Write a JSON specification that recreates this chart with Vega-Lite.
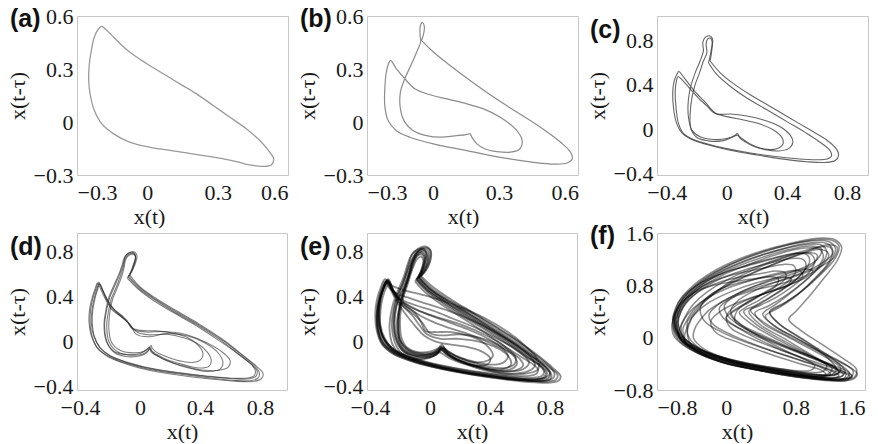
{
"$schema": "https://vega.github.io/schema/vega-lite/v6.json",
"background": "white",
"padding": {"left": 5, "top": 4, "right": 0, "bottom": 0},
"columns": 3,
"spacing": {"row": 58, "column": 79},
"bounds": "flush",
"concat": [
{
"title": {"text": "(a)"},
"width": 211, "height": 159,
"data": {"values": [
{"s":1,"x":-0.194,"y":0.543},{"s":1,"x":-0.158,"y":0.500},{"s":1,"x":-0.116,"y":0.443},{"s":1,"x":-0.066,"y":0.386},{"s":1,"x":-0.002,"y":0.330},{"s":1,"x":0.068,"y":0.273},{"s":1,"x":0.139,"y":0.216},{"s":1,"x":0.210,"y":0.159},{"s":1,"x":0.281,"y":0.093},{"s":1,"x":0.352,"y":0.027},{"s":1,"x":0.423,"y":-0.039},{"s":1,"x":0.480,"y":-0.105},{"s":1,"x":0.522,"y":-0.171},{"s":1,"x":0.539,"y":-0.209},{"s":1,"x":0.529,"y":-0.243},{"s":1,"x":0.494,"y":-0.251},{"s":1,"x":0.437,"y":-0.243},{"s":1,"x":0.380,"y":-0.224},{"s":1,"x":0.309,"y":-0.205},{"s":1,"x":0.239,"y":-0.190},{"s":1,"x":0.168,"y":-0.175},{"s":1,"x":0.097,"y":-0.160},{"s":1,"x":0.012,"y":-0.143},{"s":1,"x":-0.073,"y":-0.115},{"s":1,"x":-0.144,"y":-0.067},{"s":1,"x":-0.194,"y":-0.011},{"s":1,"x":-0.226,"y":0.065},{"s":1,"x":-0.243,"y":0.150},{"s":1,"x":-0.250,"y":0.235},{"s":1,"x":-0.248,"y":0.320},{"s":1,"x":-0.239,"y":0.405},{"s":1,"x":-0.226,"y":0.481},{"s":1,"x":-0.208,"y":0.528},{"s":1,"x":-0.194,"y":0.543}
]},
"mark": {"type": "line", "color": "#9a9a9a", "strokeWidth": 1.3, "interpolate": "catmull-rom"},
"encoding": {
"x": {"field": "x", "type": "quantitative", "scale": {"domain": [-0.3, 0.6], "nice": false, "zero": false}, "axis": {"values": [-0.3, 0, 0.3, 0.6], "format": ".1~f", "title": "x(t)", "titleX": 72}},
"y": {"field": "y", "type": "quantitative", "scale": {"domain": [-0.3, 0.6], "nice": false, "zero": false}, "axis": {"values": [-0.3, 0, 0.3, 0.6], "format": ".1~f", "title": "x(t-τ)"}},
"detail": {"field": "s", "type": "nominal"},
"order": {"value": null}
}
},
{
"title": {"text": "(b)"},
"width": 211, "height": 159,
"data": {"values": [
{"s":1,"x":-0.052,"y":0.462},{"s":1,"x":0.002,"y":0.396},{"s":1,"x":0.078,"y":0.320},{"s":1,"x":0.169,"y":0.235},{"s":1,"x":0.276,"y":0.141},{"s":1,"x":0.383,"y":0.055},{"s":1,"x":0.489,"y":-0.030},{"s":1,"x":0.581,"y":-0.115},{"s":1,"x":0.626,"y":-0.171},{"s":1,"x":0.634,"y":-0.209},{"s":1,"x":0.611,"y":-0.232},{"s":1,"x":0.550,"y":-0.238},{"s":1,"x":0.459,"y":-0.228},{"s":1,"x":0.306,"y":-0.200},{"s":1,"x":0.154,"y":-0.162},{"s":1,"x":0.002,"y":-0.124},{"s":1,"x":-0.105,"y":-0.086},{"s":1,"x":-0.166,"y":-0.049},{"s":1,"x":-0.204,"y":0.008},{"s":1,"x":-0.219,"y":0.093},{"s":1,"x":-0.219,"y":0.188},{"s":1,"x":-0.212,"y":0.282},{"s":1,"x":-0.199,"y":0.339},{"s":1,"x":-0.193,"y":0.349},{"s":1,"x":-0.166,"y":0.301},{"s":1,"x":-0.128,"y":0.245},{"s":1,"x":-0.082,"y":0.188},{"s":1,"x":-0.014,"y":0.154},{"s":1,"x":0.063,"y":0.131},{"s":1,"x":0.139,"y":0.108},{"s":1,"x":0.230,"y":0.074},{"s":1,"x":0.306,"y":0.027},{"s":1,"x":0.375,"y":-0.039},{"s":1,"x":0.406,"y":-0.105},{"s":1,"x":0.395,"y":-0.153},{"s":1,"x":0.352,"y":-0.171},{"s":1,"x":0.291,"y":-0.168},{"s":1,"x":0.238,"y":-0.153},{"s":1,"x":0.200,"y":-0.124},{"s":1,"x":0.177,"y":-0.086},{"s":1,"x":0.169,"y":-0.067},{"s":1,"x":0.151,"y":-0.071},{"s":1,"x":0.108,"y":-0.077},{"s":1,"x":0.032,"y":-0.086},{"s":1,"x":-0.029,"y":-0.077},{"s":1,"x":-0.090,"y":-0.049},{"s":1,"x":-0.128,"y":-0.001},{"s":1,"x":-0.148,"y":0.074},{"s":1,"x":-0.148,"y":0.169},{"s":1,"x":-0.128,"y":0.245},{"s":1,"x":-0.097,"y":0.330},{"s":1,"x":-0.071,"y":0.405},{"s":1,"x":-0.056,"y":0.453},{"s":1,"x":-0.059,"y":0.500},{"s":1,"x":-0.056,"y":0.551},{"s":1,"x":-0.047,"y":0.562},{"s":1,"x":-0.039,"y":0.538},{"s":1,"x":-0.044,"y":0.490},{"s":1,"x":-0.052,"y":0.462}
]},
"mark": {"type": "line", "color": "#8c8c8c", "strokeWidth": 1.2, "interpolate": "catmull-rom"},
"encoding": {
"x": {"field": "x", "type": "quantitative", "scale": {"domain": [-0.3, 0.66], "nice": false, "zero": false}, "axis": {"values": [-0.3, 0, 0.3, 0.6], "format": ".1~f", "title": "x(t)", "titleX": 96}},
"y": {"field": "y", "type": "quantitative", "scale": {"domain": [-0.3, 0.6], "nice": false, "zero": false}, "axis": {"values": [-0.3, 0, 0.3, 0.6], "format": ".1~f", "title": "x(t-τ)"}},
"detail": {"field": "s", "type": "nominal"},
"order": {"value": null}
}
},
{
"title": {"text": "(c)"},
"width": 211, "height": 159,
"data": {"values": [
{"s":1,"x":-0.111,"y":0.615},{"s":1,"x":-0.044,"y":0.509},{"s":1,"x":0.044,"y":0.412},{"s":1,"x":0.156,"y":0.312},{"s":1,"x":0.289,"y":0.206},{"s":1,"x":0.422,"y":0.100},{"s":1,"x":0.556,"y":-0.006},{"s":1,"x":0.667,"y":-0.097},{"s":1,"x":0.733,"y":-0.182},{"s":1,"x":0.744,"y":-0.233},{"s":1,"x":0.722,"y":-0.279},{"s":1,"x":0.655,"y":-0.297},{"s":1,"x":0.533,"y":-0.291},{"s":1,"x":0.378,"y":-0.267},{"s":1,"x":0.200,"y":-0.230},{"s":1,"x":0.022,"y":-0.188},{"s":1,"x":-0.133,"y":-0.136},{"s":1,"x":-0.233,"y":-0.091},{"s":1,"x":-0.300,"y":-0.030},{"s":1,"x":-0.338,"y":0.070},{"s":1,"x":-0.356,"y":0.206},{"s":1,"x":-0.360,"y":0.342},{"s":1,"x":-0.351,"y":0.433},{"s":1,"x":-0.333,"y":0.494},{"s":1,"x":-0.320,"y":0.521},{"s":1,"x":-0.289,"y":0.473},{"s":1,"x":-0.244,"y":0.394},{"s":1,"x":-0.200,"y":0.321},{"s":1,"x":-0.144,"y":0.245},{"s":1,"x":-0.100,"y":0.176},{"s":1,"x":-0.067,"y":0.139},{"s":1,"x":0.022,"y":0.139},{"s":1,"x":0.133,"y":0.121},{"s":1,"x":0.244,"y":0.085},{"s":1,"x":0.356,"y":0.024},{"s":1,"x":0.422,"y":-0.052},{"s":1,"x":0.440,"y":-0.112},{"s":1,"x":0.411,"y":-0.173},{"s":1,"x":0.344,"y":-0.194},{"s":1,"x":0.256,"y":-0.182},{"s":1,"x":0.178,"y":-0.152},{"s":1,"x":0.122,"y":-0.112},{"s":1,"x":0.084,"y":-0.073},{"s":1,"x":0.071,"y":-0.036},{"s":1,"x":0.056,"y":-0.052},{"s":1,"x":0.000,"y":-0.082},{"s":1,"x":-0.089,"y":-0.091},{"s":1,"x":-0.178,"y":-0.067},{"s":1,"x":-0.233,"y":-0.006},{"s":1,"x":-0.256,"y":0.115},{"s":1,"x":-0.256,"y":0.267},{"s":1,"x":-0.240,"y":0.388},{"s":1,"x":-0.211,"y":0.509},{"s":1,"x":-0.178,"y":0.615},{"s":1,"x":-0.156,"y":0.706},{"s":1,"x":-0.160,"y":0.782},{"s":1,"x":-0.144,"y":0.827},{"s":1,"x":-0.116,"y":0.842},{"s":1,"x":-0.096,"y":0.818},{"s":1,"x":-0.098,"y":0.736},{"s":1,"x":-0.111,"y":0.615},
{"s":2,"x":-0.122,"y":0.600},{"s":2,"x":-0.067,"y":0.494},{"s":2,"x":0.022,"y":0.388},{"s":2,"x":0.133,"y":0.282},{"s":2,"x":0.267,"y":0.176},{"s":2,"x":0.400,"y":0.070},{"s":2,"x":0.533,"y":-0.036},{"s":2,"x":0.633,"y":-0.127},{"s":2,"x":0.689,"y":-0.194},{"s":2,"x":0.696,"y":-0.242},{"s":2,"x":0.667,"y":-0.267},{"s":2,"x":0.600,"y":-0.273},{"s":2,"x":0.467,"y":-0.264},{"s":2,"x":0.311,"y":-0.242},{"s":2,"x":0.156,"y":-0.212},{"s":2,"x":0.000,"y":-0.173},{"s":2,"x":-0.122,"y":-0.133},{"s":2,"x":-0.222,"y":-0.091},{"s":2,"x":-0.289,"y":-0.036},{"s":2,"x":-0.322,"y":0.055},{"s":2,"x":-0.338,"y":0.191},{"s":2,"x":-0.344,"y":0.327},{"s":2,"x":-0.338,"y":0.418},{"s":2,"x":-0.324,"y":0.473},{"s":2,"x":-0.289,"y":0.433},{"s":2,"x":-0.240,"y":0.358},{"s":2,"x":-0.189,"y":0.282},{"s":2,"x":-0.133,"y":0.212},{"s":2,"x":-0.089,"y":0.152},{"s":2,"x":0.000,"y":0.115},{"s":2,"x":0.111,"y":0.085},{"s":2,"x":0.222,"y":0.048},{"s":2,"x":0.311,"y":-0.006},{"s":2,"x":0.367,"y":-0.073},{"s":2,"x":0.373,"y":-0.133},{"s":2,"x":0.333,"y":-0.173},{"s":2,"x":0.267,"y":-0.179},{"s":2,"x":0.200,"y":-0.158},{"s":2,"x":0.144,"y":-0.121},{"s":2,"x":0.100,"y":-0.082},{"s":2,"x":0.071,"y":-0.052},{"s":2,"x":0.033,"y":-0.073},{"s":2,"x":-0.033,"y":-0.103},{"s":2,"x":-0.122,"y":-0.103},{"s":2,"x":-0.200,"y":-0.073},{"s":2,"x":-0.240,"y":0.009},{"s":2,"x":-0.244,"y":0.145},{"s":2,"x":-0.233,"y":0.282},{"s":2,"x":-0.211,"y":0.403},{"s":2,"x":-0.182,"y":0.509},{"s":2,"x":-0.156,"y":0.615},{"s":2,"x":-0.133,"y":0.691},{"s":2,"x":-0.138,"y":0.767},{"s":2,"x":-0.129,"y":0.812},{"s":2,"x":-0.109,"y":0.821},{"s":2,"x":-0.098,"y":0.788},{"s":2,"x":-0.107,"y":0.691},{"s":2,"x":-0.122,"y":0.600}
]},
"mark": {"type": "line", "color": "#333333", "opacity": 0.75, "strokeWidth": 1.1, "interpolate": "catmull-rom"},
"encoding": {
"x": {"field": "x", "type": "quantitative", "scale": {"domain": [-0.465, 0.94], "nice": false, "zero": false}, "axis": {"values": [-0.4, 0, 0.4, 0.8], "format": ".1~f", "title": "x(t)", "titleX": 96}},
"y": {"field": "y", "type": "quantitative", "scale": {"domain": [-0.41, 1.02], "nice": false, "zero": false}, "axis": {"values": [-0.4, 0, 0.4, 0.8], "format": ".1~f", "title": "x(t-τ)"}},
"detail": {"field": "s", "type": "nominal"},
"order": {"value": null}
}
},
{
"title": {"text": "(d)"},
"width": 210, "height": 157,
"data": {"values": [
{"s":1,"x":-0.076,"y":0.578},{"s":1,"x":-0.002,"y":0.474},{"s":1,"x":0.098,"y":0.376},{"s":1,"x":0.231,"y":0.267},{"s":1,"x":0.387,"y":0.148},{"s":1,"x":0.542,"y":0.015},{"s":1,"x":0.676,"y":-0.119},{"s":1,"x":0.776,"y":-0.222},{"s":1,"x":0.82,"y":-0.288},{"s":1,"x":0.809,"y":-0.335},{"s":1,"x":0.753,"y":-0.359},{"s":1,"x":0.631,"y":-0.356},{"s":1,"x":0.453,"y":-0.335},{"s":1,"x":0.253,"y":-0.302},{"s":1,"x":0.053,"y":-0.258},{"s":1,"x":-0.102,"y":-0.199},{"s":1,"x":-0.213,"y":-0.139},{"s":1,"x":-0.28,"y":-0.068},{"s":1,"x":-0.32,"y":0.044},{"s":1,"x":-0.333,"y":0.163},{"s":1,"x":-0.329,"y":0.281},{"s":1,"x":-0.313,"y":0.385},{"s":1,"x":-0.291,"y":0.474},{"s":1,"x":-0.276,"y":0.524},{"s":1,"x":-0.247,"y":0.444},{"s":1,"x":-0.218,"y":0.355},{"s":1,"x":-0.18,"y":0.281},{"s":1,"x":-0.124,"y":0.216},{"s":1,"x":-0.069,"y":0.148},{"s":1,"x":-0.024,"y":0.059},{"s":1,"x":0.053,"y":0.038},{"s":1,"x":0.187,"y":0.068},{"s":1,"x":0.32,"y":0.044},{"s":1,"x":0.431,"y":-0.015},{"s":1,"x":0.52,"y":-0.104},{"s":1,"x":0.553,"y":-0.193},{"s":1,"x":0.531,"y":-0.252},{"s":1,"x":0.453,"y":-0.27},{"s":1,"x":0.364,"y":-0.252},{"s":1,"x":0.276,"y":-0.222},{"s":1,"x":0.187,"y":-0.178},{"s":1,"x":0.12,"y":-0.134},{"s":1,"x":0.076,"y":-0.098},{"s":1,"x":0.064,"y":-0.068},{"s":1,"x":0.049,"y":-0.098},{"s":1,"x":0.009,"y":-0.128},{"s":1,"x":-0.08,"y":-0.139},{"s":1,"x":-0.169,"y":-0.104},{"s":1,"x":-0.218,"y":-0.015},{"s":1,"x":-0.236,"y":0.133},{"s":1,"x":-0.224,"y":0.267},{"s":1,"x":-0.202,"y":0.385},{"s":1,"x":-0.169,"y":0.489},{"s":1,"x":-0.136,"y":0.592},{"s":1,"x":-0.113,"y":0.681},{"s":1,"x":-0.098,"y":0.75},{"s":1,"x":-0.069,"y":0.785},{"s":1,"x":-0.036,"y":0.791},{"s":1,"x":-0.02,"y":0.755},{"s":1,"x":-0.036,"y":0.672},{"s":1,"x":-0.058,"y":0.613},{"s":1,"x":-0.076,"y":0.578},
{"s":2,"x":-0.085,"y":0.56},{"s":2,"x":-0.01,"y":0.46},{"s":2,"x":0.09,"y":0.36},{"s":2,"x":0.22,"y":0.255},{"s":2,"x":0.37,"y":0.14},{"s":2,"x":0.52,"y":0.01},{"s":2,"x":0.65,"y":-0.11},{"s":2,"x":0.74,"y":-0.205},{"s":2,"x":0.78,"y":-0.265},{"s":2,"x":0.775,"y":-0.31},{"s":2,"x":0.73,"y":-0.335},{"s":2,"x":0.62,"y":-0.335},{"s":2,"x":0.45,"y":-0.315},{"s":2,"x":0.26,"y":-0.285},{"s":2,"x":0.07,"y":-0.245},{"s":2,"x":-0.09,"y":-0.19},{"s":2,"x":-0.2,"y":-0.13},{"s":2,"x":-0.265,"y":-0.06},{"s":2,"x":-0.305,"y":0.045},{"s":2,"x":-0.318,"y":0.165},{"s":2,"x":-0.314,"y":0.28},{"s":2,"x":-0.3,"y":0.38},{"s":2,"x":-0.282,"y":0.46},{"s":2,"x":-0.27,"y":0.505},{"s":2,"x":-0.24,"y":0.43},{"s":2,"x":-0.205,"y":0.34},{"s":2,"x":-0.165,"y":0.27},{"s":2,"x":-0.11,"y":0.205},{"s":2,"x":-0.06,"y":0.135},{"s":2,"x":-0.015,"y":0.075},{"s":2,"x":0.06,"y":0.055},{"s":2,"x":0.18,"y":0.06},{"s":2,"x":0.29,"y":0.03},{"s":2,"x":0.38,"y":-0.02},{"s":2,"x":0.45,"y":-0.1},{"s":2,"x":0.475,"y":-0.17},{"s":2,"x":0.46,"y":-0.225},{"s":2,"x":0.4,"y":-0.24},{"s":2,"x":0.33,"y":-0.225},{"s":2,"x":0.25,"y":-0.195},{"s":2,"x":0.17,"y":-0.16},{"s":2,"x":0.115,"y":-0.12},{"s":2,"x":0.08,"y":-0.09},{"s":2,"x":0.07,"y":-0.06},{"s":2,"x":0.055,"y":-0.085},{"s":2,"x":0.02,"y":-0.115},{"s":2,"x":-0.06,"y":-0.125},{"s":2,"x":-0.15,"y":-0.095},{"s":2,"x":-0.205,"y":-0.01},{"s":2,"x":-0.222,"y":0.13},{"s":2,"x":-0.21,"y":0.265},{"s":2,"x":-0.19,"y":0.38},{"s":2,"x":-0.158,"y":0.48},{"s":2,"x":-0.13,"y":0.58},{"s":2,"x":-0.11,"y":0.665},{"s":2,"x":-0.1,"y":0.73},{"s":2,"x":-0.075,"y":0.77},{"s":2,"x":-0.045,"y":0.78},{"s":2,"x":-0.03,"y":0.75},{"s":2,"x":-0.045,"y":0.665},{"s":2,"x":-0.065,"y":0.6},{"s":2,"x":-0.085,"y":0.56},
{"s":3,"x":-0.07,"y":0.59},{"s":3,"x":0.0,"y":0.48},{"s":3,"x":0.1,"y":0.385},{"s":3,"x":0.235,"y":0.275},{"s":3,"x":0.39,"y":0.155},{"s":3,"x":0.545,"y":0.02},{"s":3,"x":0.67,"y":-0.11},{"s":3,"x":0.76,"y":-0.215},{"s":3,"x":0.795,"y":-0.28},{"s":3,"x":0.79,"y":-0.325},{"s":3,"x":0.745,"y":-0.35},{"s":3,"x":0.63,"y":-0.35},{"s":3,"x":0.45,"y":-0.325},{"s":3,"x":0.25,"y":-0.29},{"s":3,"x":0.06,"y":-0.25},{"s":3,"x":-0.1,"y":-0.195},{"s":3,"x":-0.215,"y":-0.13},{"s":3,"x":-0.285,"y":-0.06},{"s":3,"x":-0.325,"y":0.05},{"s":3,"x":-0.34,"y":0.17},{"s":3,"x":-0.335,"y":0.29},{"s":3,"x":-0.318,"y":0.39},{"s":3,"x":-0.298,"y":0.47},{"s":3,"x":-0.284,"y":0.515},{"s":3,"x":-0.255,"y":0.44},{"s":3,"x":-0.222,"y":0.35},{"s":3,"x":-0.185,"y":0.275},{"s":3,"x":-0.13,"y":0.22},{"s":3,"x":-0.08,"y":0.165},{"s":3,"x":-0.04,"y":0.1},{"s":3,"x":0.04,"y":0.08},{"s":3,"x":0.16,"y":0.085},{"s":3,"x":0.3,"y":0.06},{"s":3,"x":0.42,"y":0.0},{"s":3,"x":0.54,"y":-0.09},{"s":3,"x":0.6,"y":-0.17},{"s":3,"x":0.59,"y":-0.23},{"s":3,"x":0.53,"y":-0.26},{"s":3,"x":0.43,"y":-0.26},{"s":3,"x":0.33,"y":-0.235},{"s":3,"x":0.22,"y":-0.195},{"s":3,"x":0.14,"y":-0.15},{"s":3,"x":0.09,"y":-0.11},{"s":3,"x":0.07,"y":-0.075},{"s":3,"x":0.06,"y":-0.055},{"s":3,"x":0.045,"y":-0.075},{"s":3,"x":0.0,"y":-0.11},{"s":3,"x":-0.09,"y":-0.12},{"s":3,"x":-0.175,"y":-0.09},{"s":3,"x":-0.225,"y":0.0},{"s":3,"x":-0.24,"y":0.14},{"s":3,"x":-0.228,"y":0.27},{"s":3,"x":-0.207,"y":0.39},{"s":3,"x":-0.176,"y":0.49},{"s":3,"x":-0.142,"y":0.59},{"s":3,"x":-0.12,"y":0.67},{"s":3,"x":-0.105,"y":0.74},{"s":3,"x":-0.08,"y":0.78},{"s":3,"x":-0.05,"y":0.79},{"s":3,"x":-0.03,"y":0.76},{"s":3,"x":-0.045,"y":0.675},{"s":3,"x":-0.06,"y":0.62},{"s":3,"x":-0.07,"y":0.59},
{"s":4,"x":-0.08,"y":0.57},{"s":4,"x":-0.005,"y":0.465},{"s":4,"x":0.095,"y":0.37},{"s":4,"x":0.225,"y":0.26},{"s":4,"x":0.38,"y":0.145},{"s":4,"x":0.53,"y":0.015},{"s":4,"x":0.655,"y":-0.115},{"s":4,"x":0.745,"y":-0.21},{"s":4,"x":0.77,"y":-0.27},{"s":4,"x":0.76,"y":-0.31},{"s":4,"x":0.72,"y":-0.328},{"s":4,"x":0.61,"y":-0.33},{"s":4,"x":0.44,"y":-0.31},{"s":4,"x":0.25,"y":-0.28},{"s":4,"x":0.065,"y":-0.24},{"s":4,"x":-0.095,"y":-0.185},{"s":4,"x":-0.205,"y":-0.125},{"s":4,"x":-0.27,"y":-0.055},{"s":4,"x":-0.31,"y":0.05},{"s":4,"x":-0.325,"y":0.165},{"s":4,"x":-0.32,"y":0.28},{"s":4,"x":-0.305,"y":0.38},{"s":4,"x":-0.287,"y":0.46},{"s":4,"x":-0.272,"y":0.51},{"s":4,"x":-0.245,"y":0.435},{"s":4,"x":-0.21,"y":0.345},{"s":4,"x":-0.17,"y":0.28},{"s":4,"x":-0.12,"y":0.225},{"s":4,"x":-0.085,"y":0.18},{"s":4,"x":-0.06,"y":0.12},{"s":4,"x":0.0,"y":0.095},{"s":4,"x":0.1,"y":0.09},{"s":4,"x":0.22,"y":0.07},{"s":4,"x":0.32,"y":0.03},{"s":4,"x":0.39,"y":-0.04},{"s":4,"x":0.42,"y":-0.11},{"s":4,"x":0.405,"y":-0.165},{"s":4,"x":0.35,"y":-0.19},{"s":4,"x":0.28,"y":-0.18},{"s":4,"x":0.2,"y":-0.15},{"s":4,"x":0.14,"y":-0.12},{"s":4,"x":0.1,"y":-0.09},{"s":4,"x":0.08,"y":-0.06},{"s":4,"x":0.075,"y":-0.04},{"s":4,"x":0.06,"y":-0.06},{"s":4,"x":0.03,"y":-0.09},{"s":4,"x":-0.04,"y":-0.105},{"s":4,"x":-0.13,"y":-0.085},{"s":4,"x":-0.19,"y":-0.01},{"s":4,"x":-0.208,"y":0.12},{"s":4,"x":-0.2,"y":0.26},{"s":4,"x":-0.182,"y":0.375},{"s":4,"x":-0.152,"y":0.47},{"s":4,"x":-0.123,"y":0.57},{"s":4,"x":-0.105,"y":0.66},{"s":4,"x":-0.095,"y":0.725},{"s":4,"x":-0.07,"y":0.765},{"s":4,"x":-0.042,"y":0.77},{"s":4,"x":-0.028,"y":0.745},{"s":4,"x":-0.04,"y":0.67},{"s":4,"x":-0.058,"y":0.61},{"s":4,"x":-0.08,"y":0.57}
]},
"mark": {"type": "line", "color": "#2a2a2a", "opacity": 0.6, "strokeWidth": 1.1, "interpolate": "catmull-rom"},
"encoding": {
"x": {"field": "x", "type": "quantitative", "scale": {"domain": [-0.42, 0.98], "nice": false, "zero": false}, "axis": {"values": [-0.4, 0, 0.4, 0.8], "format": ".1~f", "title": "x(t)"}},
"y": {"field": "y", "type": "quantitative", "scale": {"domain": [-0.435, 0.96], "nice": false, "zero": false}, "axis": {"values": [-0.4, 0, 0.4, 0.8], "format": ".1~f", "title": "x(t-τ)"}},
"detail": {"field": "s", "type": "nominal"},
"order": {"value": null}
}
},
{
"title": {"text": "(e)"},
"width": 210, "height": 157,
"data": {"values": [
{"s":1,"x":-0.07,"y":0.56},{"s":1,"x":0.0,"y":0.46},{"s":1,"x":0.12,"y":0.36},{"s":1,"x":0.27,"y":0.24},{"s":1,"x":0.43,"y":0.11},{"s":1,"x":0.58,"y":-0.02},{"s":1,"x":0.71,"y":-0.15},{"s":1,"x":0.80,"y":-0.24},{"s":1,"x":0.85,"y":-0.30},{"s":1,"x":0.84,"y":-0.34},{"s":1,"x":0.78,"y":-0.36},{"s":1,"x":0.64,"y":-0.35},{"s":1,"x":0.45,"y":-0.32},{"s":1,"x":0.25,"y":-0.28},{"s":1,"x":0.05,"y":-0.23},{"s":1,"x":-0.12,"y":-0.17},{"s":1,"x":-0.24,"y":-0.10},{"s":1,"x":-0.31,"y":-0.02},{"s":1,"x":-0.345,"y":0.10},{"s":1,"x":-0.35,"y":0.24},{"s":1,"x":-0.335,"y":0.37},{"s":1,"x":-0.31,"y":0.47},{"s":1,"x":-0.285,"y":0.54},{"s":1,"x":-0.255,"y":0.46},{"s":1,"x":-0.22,"y":0.37},{"s":1,"x":-0.17,"y":0.30},{"s":1,"x":-0.11,"y":0.24},{"s":1,"x":-0.05,"y":0.16},{"s":1,"x":0.0,"y":0.07},{"s":1,"x":0.08,"y":0.05},{"s":1,"x":0.2,"y":0.06},{"s":1,"x":0.33,"y":0.03},{"s":1,"x":0.45,"y":-0.03},{"s":1,"x":0.55,"y":-0.12},{"s":1,"x":0.58,"y":-0.2},{"s":1,"x":0.54,"y":-0.25},{"s":1,"x":0.45,"y":-0.26},{"s":1,"x":0.33,"y":-0.23},{"s":1,"x":0.2,"y":-0.18},{"s":1,"x":0.11,"y":-0.12},{"s":1,"x":0.07,"y":-0.07},{"s":1,"x":0.05,"y":-0.11},{"s":1,"x":0.0,"y":-0.14},{"s":1,"x":-0.09,"y":-0.14},{"s":1,"x":-0.17,"y":-0.1},{"s":1,"x":-0.22,"y":0.0},{"s":1,"x":-0.24,"y":0.14},{"s":1,"x":-0.23,"y":0.28},{"s":1,"x":-0.2,"y":0.4},{"s":1,"x":-0.165,"y":0.5},{"s":1,"x":-0.14,"y":0.6},{"s":1,"x":-0.12,"y":0.7},{"s":1,"x":-0.09,"y":0.78},{"s":1,"x":-0.04,"y":0.83},{"s":1,"x":0.0,"y":0.81},{"s":1,"x":0.0,"y":0.72},{"s":1,"x":-0.03,"y":0.63},{"s":1,"x":-0.07,"y":0.56},
{"s":2,"x":-0.08,"y":0.55},{"s":2,"x":-0.01,"y":0.45},{"s":2,"x":0.1,"y":0.35},{"s":2,"x":0.25,"y":0.23},{"s":2,"x":0.41,"y":0.1},{"s":2,"x":0.56,"y":-0.03},{"s":2,"x":0.68,"y":-0.14},{"s":2,"x":0.77,"y":-0.23},{"s":2,"x":0.80,"y":-0.28},{"s":2,"x":0.78,"y":-0.32},{"s":2,"x":0.72,"y":-0.34},{"s":2,"x":0.58,"y":-0.33},{"s":2,"x":0.4,"y":-0.3},{"s":2,"x":0.2,"y":-0.26},{"s":2,"x":0.02,"y":-0.21},{"s":2,"x":-0.13,"y":-0.15},{"s":2,"x":-0.24,"y":-0.08},{"s":2,"x":-0.3,"y":0.02},{"s":2,"x":-0.33,"y":0.14},{"s":2,"x":-0.33,"y":0.27},{"s":2,"x":-0.315,"y":0.39},{"s":2,"x":-0.29,"y":0.48},{"s":2,"x":-0.27,"y":0.52},{"s":2,"x":-0.24,"y":0.44},{"s":2,"x":-0.19,"y":0.37},{"s":2,"x":-0.1,"y":0.32},{"s":2,"x":0.02,"y":0.27},{"s":2,"x":0.15,"y":0.2},{"s":2,"x":0.3,"y":0.12},{"s":2,"x":0.45,"y":0.02},{"s":2,"x":0.6,"y":-0.1},{"s":2,"x":0.66,"y":-0.19},{"s":2,"x":0.62,"y":-0.25},{"s":2,"x":0.52,"y":-0.27},{"s":2,"x":0.38,"y":-0.25},{"s":2,"x":0.25,"y":-0.2},{"s":2,"x":0.14,"y":-0.14},{"s":2,"x":0.09,"y":-0.08},{"s":2,"x":0.07,"y":-0.05},{"s":2,"x":0.04,"y":-0.09},{"s":2,"x":-0.02,"y":-0.12},{"s":2,"x":-0.1,"y":-0.12},{"s":2,"x":-0.18,"y":-0.07},{"s":2,"x":-0.215,"y":0.04},{"s":2,"x":-0.22,"y":0.18},{"s":2,"x":-0.2,"y":0.32},{"s":2,"x":-0.175,"y":0.43},{"s":2,"x":-0.15,"y":0.53},{"s":2,"x":-0.13,"y":0.63},{"s":2,"x":-0.11,"y":0.72},{"s":2,"x":-0.08,"y":0.78},{"s":2,"x":-0.04,"y":0.8},{"s":2,"x":-0.02,"y":0.76},{"s":2,"x":-0.03,"y":0.67},{"s":2,"x":-0.06,"y":0.6},{"s":2,"x":-0.08,"y":0.55},
{"s":3,"x":-0.09,"y":0.54},{"s":3,"x":-0.02,"y":0.44},{"s":3,"x":0.08,"y":0.34},{"s":3,"x":0.22,"y":0.22},{"s":3,"x":0.38,"y":0.09},{"s":3,"x":0.53,"y":-0.04},{"s":3,"x":0.65,"y":-0.15},{"s":3,"x":0.73,"y":-0.22},{"s":3,"x":0.76,"y":-0.27},{"s":3,"x":0.745,"y":-0.31},{"s":3,"x":0.69,"y":-0.325},{"s":3,"x":0.56,"y":-0.32},{"s":3,"x":0.38,"y":-0.29},{"s":3,"x":0.19,"y":-0.25},{"s":3,"x":0.01,"y":-0.2},{"s":3,"x":-0.14,"y":-0.14},{"s":3,"x":-0.25,"y":-0.07},{"s":3,"x":-0.31,"y":0.03},{"s":3,"x":-0.34,"y":0.16},{"s":3,"x":-0.34,"y":0.29},{"s":3,"x":-0.325,"y":0.41},{"s":3,"x":-0.3,"y":0.5},{"s":3,"x":-0.28,"y":0.55},{"s":3,"x":-0.25,"y":0.47},{"s":3,"x":-0.21,"y":0.38},{"s":3,"x":-0.16,"y":0.31},{"s":3,"x":-0.1,"y":0.25},{"s":3,"x":-0.06,"y":0.17},{"s":3,"x":-0.03,"y":0.09},{"s":3,"x":0.04,"y":0.08},{"s":3,"x":0.14,"y":0.08},{"s":3,"x":0.25,"y":0.05},{"s":3,"x":0.34,"y":0.0},{"s":3,"x":0.4,"y":-0.07},{"s":3,"x":0.42,"y":-0.13},{"s":3,"x":0.39,"y":-0.17},{"s":3,"x":0.32,"y":-0.19},{"s":3,"x":0.24,"y":-0.17},{"s":3,"x":0.16,"y":-0.13},{"s":3,"x":0.11,"y":-0.09},{"s":3,"x":0.085,"y":-0.05},{"s":3,"x":0.06,"y":-0.07},{"s":3,"x":0.02,"y":-0.1},{"s":3,"x":-0.05,"y":-0.11},{"s":3,"x":-0.14,"y":-0.08},{"s":3,"x":-0.2,"y":0.01},{"s":3,"x":-0.21,"y":0.15},{"s":3,"x":-0.2,"y":0.29},{"s":3,"x":-0.18,"y":0.41},{"s":3,"x":-0.155,"y":0.51},{"s":3,"x":-0.13,"y":0.61},{"s":3,"x":-0.11,"y":0.69},{"s":3,"x":-0.09,"y":0.75},{"s":3,"x":-0.06,"y":0.77},{"s":3,"x":-0.04,"y":0.74},{"s":3,"x":-0.05,"y":0.66},{"s":3,"x":-0.07,"y":0.59},{"s":3,"x":-0.09,"y":0.54},
{"s":4,"x":-0.065,"y":0.57},{"s":4,"x":0.01,"y":0.47},{"s":4,"x":0.12,"y":0.37},{"s":4,"x":0.28,"y":0.25},{"s":4,"x":0.44,"y":0.12},{"s":4,"x":0.59,"y":-0.01},{"s":4,"x":0.72,"y":-0.14},{"s":4,"x":0.8,"y":-0.23},{"s":4,"x":0.83,"y":-0.29},{"s":4,"x":0.82,"y":-0.33},{"s":4,"x":0.76,"y":-0.355},{"s":4,"x":0.62,"y":-0.35},{"s":4,"x":0.43,"y":-0.32},{"s":4,"x":0.22,"y":-0.28},{"s":4,"x":0.03,"y":-0.225},{"s":4,"x":-0.13,"y":-0.165},{"s":4,"x":-0.25,"y":-0.095},{"s":4,"x":-0.32,"y":-0.01},{"s":4,"x":-0.35,"y":0.11},{"s":4,"x":-0.355,"y":0.25},{"s":4,"x":-0.34,"y":0.38},{"s":4,"x":-0.32,"y":0.47},{"s":4,"x":-0.3,"y":0.53},{"s":4,"x":-0.27,"y":0.47},{"s":4,"x":-0.22,"y":0.42},{"s":4,"x":-0.13,"y":0.38},{"s":4,"x":-0.02,"y":0.33},{"s":4,"x":0.12,"y":0.27},{"s":4,"x":0.27,"y":0.19},{"s":4,"x":0.42,"y":0.09},{"s":4,"x":0.57,"y":-0.03},{"s":4,"x":0.67,"y":-0.14},{"s":4,"x":0.7,"y":-0.22},{"s":4,"x":0.65,"y":-0.27},{"s":4,"x":0.54,"y":-0.29},{"s":4,"x":0.4,"y":-0.27},{"s":4,"x":0.27,"y":-0.22},{"s":4,"x":0.16,"y":-0.16},{"s":4,"x":0.1,"y":-0.1},{"s":4,"x":0.075,"y":-0.06},{"s":4,"x":0.05,"y":-0.1},{"s":4,"x":-0.01,"y":-0.13},{"s":4,"x":-0.1,"y":-0.13},{"s":4,"x":-0.18,"y":-0.09},{"s":4,"x":-0.23,"y":0.02},{"s":4,"x":-0.245,"y":0.16},{"s":4,"x":-0.235,"y":0.3},{"s":4,"x":-0.21,"y":0.42},{"s":4,"x":-0.18,"y":0.52},{"s":4,"x":-0.155,"y":0.61},{"s":4,"x":-0.13,"y":0.7},{"s":4,"x":-0.1,"y":0.77},{"s":4,"x":-0.055,"y":0.81},{"s":4,"x":-0.02,"y":0.79},{"s":4,"x":-0.015,"y":0.71},{"s":4,"x":-0.04,"y":0.62},{"s":4,"x":-0.065,"y":0.57},
{"s":5,"x":-0.06,"y":0.58},{"s":5,"x":0.02,"y":0.48},{"s":5,"x":0.14,"y":0.37},{"s":5,"x":0.29,"y":0.25},{"s":5,"x":0.45,"y":0.12},{"s":5,"x":0.6,"y":-0.01},{"s":5,"x":0.73,"y":-0.14},{"s":5,"x":0.82,"y":-0.24},{"s":5,"x":0.87,"y":-0.31},{"s":5,"x":0.86,"y":-0.35},{"s":5,"x":0.8,"y":-0.37},{"s":5,"x":0.66,"y":-0.365},{"s":5,"x":0.47,"y":-0.335},{"s":5,"x":0.27,"y":-0.295},{"s":5,"x":0.07,"y":-0.245},{"s":5,"x":-0.11,"y":-0.185},{"s":5,"x":-0.24,"y":-0.115},{"s":5,"x":-0.32,"y":-0.03},{"s":5,"x":-0.355,"y":0.09},{"s":5,"x":-0.365,"y":0.23},{"s":5,"x":-0.355,"y":0.36},{"s":5,"x":-0.33,"y":0.47},{"s":5,"x":-0.3,"y":0.55},{"s":5,"x":-0.265,"y":0.48},{"s":5,"x":-0.23,"y":0.39},{"s":5,"x":-0.18,"y":0.31},{"s":5,"x":-0.12,"y":0.23},{"s":5,"x":-0.07,"y":0.14},{"s":5,"x":-0.02,"y":0.06},{"s":5,"x":0.07,"y":0.02},{"s":5,"x":0.19,"y":0.02},{"s":5,"x":0.31,"y":0.0},{"s":5,"x":0.43,"y":-0.05},{"s":5,"x":0.52,"y":-0.13},{"s":5,"x":0.54,"y":-0.21},{"s":5,"x":0.48,"y":-0.25},{"s":5,"x":0.38,"y":-0.24},{"s":5,"x":0.27,"y":-0.2},{"s":5,"x":0.16,"y":-0.15},{"s":5,"x":0.1,"y":-0.1},{"s":5,"x":0.07,"y":-0.08},{"s":5,"x":0.045,"y":-0.12},{"s":5,"x":-0.02,"y":-0.15},{"s":5,"x":-0.11,"y":-0.15},{"s":5,"x":-0.19,"y":-0.11},{"s":5,"x":-0.235,"y":-0.01},{"s":5,"x":-0.255,"y":0.13},{"s":5,"x":-0.245,"y":0.27},{"s":5,"x":-0.22,"y":0.4},{"s":5,"x":-0.185,"y":0.5},{"s":5,"x":-0.16,"y":0.6},{"s":5,"x":-0.14,"y":0.69},{"s":5,"x":-0.12,"y":0.77},{"s":5,"x":-0.08,"y":0.82},{"s":5,"x":-0.03,"y":0.84},{"s":5,"x":0.005,"y":0.8},{"s":5,"x":0.0,"y":0.7},{"s":5,"x":-0.03,"y":0.62},{"s":5,"x":-0.06,"y":0.58},
{"s":6,"x":-0.1,"y":0.53},{"s":6,"x":-0.03,"y":0.43},{"s":6,"x":0.07,"y":0.33},{"s":6,"x":0.21,"y":0.21},{"s":6,"x":0.36,"y":0.08},{"s":6,"x":0.5,"y":-0.05},{"s":6,"x":0.62,"y":-0.15},{"s":6,"x":0.69,"y":-0.21},{"s":6,"x":0.72,"y":-0.25},{"s":6,"x":0.71,"y":-0.29},{"s":6,"x":0.66,"y":-0.31},{"s":6,"x":0.53,"y":-0.305},{"s":6,"x":0.36,"y":-0.28},{"s":6,"x":0.17,"y":-0.24},{"s":6,"x":-0.01,"y":-0.19},{"s":6,"x":-0.15,"y":-0.13},{"s":6,"x":-0.255,"y":-0.06},{"s":6,"x":-0.315,"y":0.04},{"s":6,"x":-0.335,"y":0.17},{"s":6,"x":-0.335,"y":0.3},{"s":6,"x":-0.32,"y":0.42},{"s":6,"x":-0.295,"y":0.5},{"s":6,"x":-0.275,"y":0.54},{"s":6,"x":-0.245,"y":0.45},{"s":6,"x":-0.2,"y":0.37},{"s":6,"x":-0.12,"y":0.3},{"s":6,"x":0.0,"y":0.23},{"s":6,"x":0.12,"y":0.17},{"s":6,"x":0.24,"y":0.11},{"s":6,"x":0.36,"y":0.04},{"s":6,"x":0.47,"y":-0.05},{"s":6,"x":0.52,"y":-0.13},{"s":6,"x":0.49,"y":-0.19},{"s":6,"x":0.41,"y":-0.21},{"s":6,"x":0.31,"y":-0.19},{"s":6,"x":0.21,"y":-0.15},{"s":6,"x":0.13,"y":-0.1},{"s":6,"x":0.095,"y":-0.06},{"s":6,"x":0.08,"y":-0.03},{"s":6,"x":0.06,"y":-0.06},{"s":6,"x":0.01,"y":-0.09},{"s":6,"x":-0.07,"y":-0.1},{"s":6,"x":-0.15,"y":-0.06},{"s":6,"x":-0.19,"y":0.03},{"s":6,"x":-0.2,"y":0.17},{"s":6,"x":-0.19,"y":0.31},{"s":6,"x":-0.17,"y":0.42},{"s":6,"x":-0.145,"y":0.52},{"s":6,"x":-0.125,"y":0.61},{"s":6,"x":-0.105,"y":0.68},{"s":6,"x":-0.085,"y":0.73},{"s":6,"x":-0.06,"y":0.75},{"s":6,"x":-0.045,"y":0.72},{"s":6,"x":-0.055,"y":0.64},{"s":6,"x":-0.075,"y":0.58},{"s":6,"x":-0.1,"y":0.53},
{"s":7,"x":-0.075,"y":0.565},{"s":7,"x":0.0,"y":0.465},{"s":7,"x":0.11,"y":0.36},{"s":7,"x":0.26,"y":0.24},{"s":7,"x":0.42,"y":0.105},{"s":7,"x":0.57,"y":-0.025},{"s":7,"x":0.7,"y":-0.15},{"s":7,"x":0.78,"y":-0.24},{"s":7,"x":0.81,"y":-0.3},{"s":7,"x":0.8,"y":-0.34},{"s":7,"x":0.74,"y":-0.355},{"s":7,"x":0.6,"y":-0.35},{"s":7,"x":0.42,"y":-0.325},{"s":7,"x":0.22,"y":-0.285},{"s":7,"x":0.03,"y":-0.235},{"s":7,"x":-0.13,"y":-0.175},{"s":7,"x":-0.25,"y":-0.11},{"s":7,"x":-0.32,"y":-0.02},{"s":7,"x":-0.35,"y":0.1},{"s":7,"x":-0.355,"y":0.23},{"s":7,"x":-0.345,"y":0.35},{"s":7,"x":-0.32,"y":0.46},{"s":7,"x":-0.29,"y":0.53},{"s":7,"x":-0.26,"y":0.45},{"s":7,"x":-0.225,"y":0.36},{"s":7,"x":-0.185,"y":0.28},{"s":7,"x":-0.14,"y":0.2},{"s":7,"x":-0.09,"y":0.12},{"s":7,"x":-0.04,"y":0.05},{"s":7,"x":0.03,"y":0.0},{"s":7,"x":0.13,"y":-0.03},{"s":7,"x":0.24,"y":-0.05},{"s":7,"x":0.34,"y":-0.09},{"s":7,"x":0.4,"y":-0.15},{"s":7,"x":0.39,"y":-0.2},{"s":7,"x":0.32,"y":-0.22},{"s":7,"x":0.22,"y":-0.2},{"s":7,"x":0.14,"y":-0.16},{"s":7,"x":0.09,"y":-0.12},{"s":7,"x":0.06,"y":-0.1},{"s":7,"x":0.03,"y":-0.13},{"s":7,"x":-0.04,"y":-0.16},{"s":7,"x":-0.13,"y":-0.16},{"s":7,"x":-0.2,"y":-0.12},{"s":7,"x":-0.25,"y":-0.03},{"s":7,"x":-0.27,"y":0.11},{"s":7,"x":-0.26,"y":0.25},{"s":7,"x":-0.235,"y":0.38},{"s":7,"x":-0.2,"y":0.49},{"s":7,"x":-0.17,"y":0.59},{"s":7,"x":-0.15,"y":0.68},{"s":7,"x":-0.125,"y":0.76},{"s":7,"x":-0.085,"y":0.81},{"s":7,"x":-0.045,"y":0.82},{"s":7,"x":-0.025,"y":0.78},{"s":7,"x":-0.035,"y":0.69},{"s":7,"x":-0.055,"y":0.61},{"s":7,"x":-0.075,"y":0.565},
{"s":8,"x":-0.085,"y":0.55},{"s":8,"x":-0.01,"y":0.45},{"s":8,"x":0.1,"y":0.35},{"s":8,"x":0.24,"y":0.23},{"s":8,"x":0.4,"y":0.1},{"s":8,"x":0.55,"y":-0.03},{"s":8,"x":0.67,"y":-0.15},{"s":8,"x":0.75,"y":-0.23},{"s":8,"x":0.78,"y":-0.28},{"s":8,"x":0.77,"y":-0.32},{"s":8,"x":0.71,"y":-0.34},{"s":8,"x":0.57,"y":-0.335},{"s":8,"x":0.39,"y":-0.305},{"s":8,"x":0.2,"y":-0.265},{"s":8,"x":0.02,"y":-0.215},{"s":8,"x":-0.13,"y":-0.155},{"s":8,"x":-0.245,"y":-0.085},{"s":8,"x":-0.305,"y":0.01},{"s":8,"x":-0.335,"y":0.13},{"s":8,"x":-0.34,"y":0.26},{"s":8,"x":-0.33,"y":0.38},{"s":8,"x":-0.305,"y":0.48},{"s":8,"x":-0.28,"y":0.53},{"s":8,"x":-0.25,"y":0.45},{"s":8,"x":-0.21,"y":0.37},{"s":8,"x":-0.15,"y":0.3},{"s":8,"x":-0.07,"y":0.23},{"s":8,"x":0.02,"y":0.17},{"s":8,"x":0.12,"y":0.12},{"s":8,"x":0.24,"y":0.07},{"s":8,"x":0.37,"y":0.0},{"s":8,"x":0.5,"y":-0.08},{"s":8,"x":0.6,"y":-0.16},{"s":8,"x":0.62,"y":-0.22},{"s":8,"x":0.57,"y":-0.26},{"s":8,"x":0.47,"y":-0.27},{"s":8,"x":0.35,"y":-0.24},{"s":8,"x":0.23,"y":-0.19},{"s":8,"x":0.14,"y":-0.13},{"s":8,"x":0.1,"y":-0.08},{"s":8,"x":0.08,"y":-0.06},{"s":8,"x":0.055,"y":-0.09},{"s":8,"x":0.0,"y":-0.12},{"s":8,"x":-0.08,"y":-0.12},{"s":8,"x":-0.16,"y":-0.08},{"s":8,"x":-0.205,"y":0.02},{"s":8,"x":-0.215,"y":0.16},{"s":8,"x":-0.205,"y":0.3},{"s":8,"x":-0.185,"y":0.42},{"s":8,"x":-0.16,"y":0.52},{"s":8,"x":-0.135,"y":0.62},{"s":8,"x":-0.115,"y":0.71},{"s":8,"x":-0.09,"y":0.77},{"s":8,"x":-0.05,"y":0.79},{"s":8,"x":-0.03,"y":0.75},{"s":8,"x":-0.04,"y":0.66},{"s":8,"x":-0.06,"y":0.6},{"s":8,"x":-0.085,"y":0.55},
{"s":9,"x":-0.075,"y":0.56},{"s":9,"x":0.0,"y":0.46},{"s":9,"x":0.11,"y":0.355},{"s":9,"x":0.26,"y":0.235},{"s":9,"x":0.42,"y":0.1},{"s":9,"x":0.57,"y":-0.03},{"s":9,"x":0.69,"y":-0.15},{"s":9,"x":0.77,"y":-0.235},{"s":9,"x":0.8,"y":-0.29},{"s":9,"x":0.79,"y":-0.33},{"s":9,"x":0.73,"y":-0.35},{"s":9,"x":0.59,"y":-0.345},{"s":9,"x":0.41,"y":-0.315},{"s":9,"x":0.21,"y":-0.275},{"s":9,"x":0.02,"y":-0.225},{"s":9,"x":-0.135,"y":-0.165},{"s":9,"x":-0.25,"y":-0.095},{"s":9,"x":-0.315,"y":0.0},{"s":9,"x":-0.345,"y":0.12},{"s":9,"x":-0.35,"y":0.25},{"s":9,"x":-0.335,"y":0.37},{"s":9,"x":-0.31,"y":0.47},{"s":9,"x":-0.29,"y":0.53},{"s":9,"x":-0.25,"y":0.49},{"s":9,"x":-0.17,"y":0.45},{"s":9,"x":-0.05,"y":0.41},{"s":9,"x":0.08,"y":0.36},{"s":9,"x":0.22,"y":0.29},{"s":9,"x":0.37,"y":0.2},{"s":9,"x":0.52,"y":0.08},{"s":9,"x":0.64,"y":-0.05},{"s":9,"x":0.72,"y":-0.17},{"s":9,"x":0.72,"y":-0.25},{"s":9,"x":0.64,"y":-0.29},{"s":9,"x":0.5,"y":-0.29},{"s":9,"x":0.36,"y":-0.25},{"s":9,"x":0.22,"y":-0.19},{"s":9,"x":0.13,"y":-0.12},{"s":9,"x":0.09,"y":-0.07},{"s":9,"x":0.06,"y":-0.1},{"s":9,"x":0.0,"y":-0.135},{"s":9,"x":-0.09,"y":-0.135},{"s":9,"x":-0.17,"y":-0.09},{"s":9,"x":-0.22,"y":0.02},{"s":9,"x":-0.235,"y":0.16},{"s":9,"x":-0.225,"y":0.3},{"s":9,"x":-0.2,"y":0.42},{"s":9,"x":-0.17,"y":0.52},{"s":9,"x":-0.145,"y":0.62},{"s":9,"x":-0.12,"y":0.71},{"s":9,"x":-0.09,"y":0.79},{"s":9,"x":-0.05,"y":0.82},{"s":9,"x":-0.01,"y":0.8},{"s":9,"x":-0.01,"y":0.71},{"s":9,"x":-0.04,"y":0.62},{"s":9,"x":-0.075,"y":0.56},
{"s":10,"x":-0.09,"y":0.545},{"s":10,"x":-0.015,"y":0.445},{"s":10,"x":0.09,"y":0.345},{"s":10,"x":0.23,"y":0.225},{"s":10,"x":0.39,"y":0.095},{"s":10,"x":0.54,"y":-0.035},{"s":10,"x":0.66,"y":-0.15},{"s":10,"x":0.74,"y":-0.225},{"s":10,"x":0.77,"y":-0.28},{"s":10,"x":0.76,"y":-0.32},{"s":10,"x":0.7,"y":-0.34},{"s":10,"x":0.56,"y":-0.335},{"s":10,"x":0.38,"y":-0.305},{"s":10,"x":0.19,"y":-0.265},{"s":10,"x":0.01,"y":-0.21},{"s":10,"x":-0.14,"y":-0.15},{"s":10,"x":-0.25,"y":-0.08},{"s":10,"x":-0.31,"y":0.02},{"s":10,"x":-0.34,"y":0.14},{"s":10,"x":-0.345,"y":0.27},{"s":10,"x":-0.33,"y":0.39},{"s":10,"x":-0.305,"y":0.49},{"s":10,"x":-0.285,"y":0.54},{"s":10,"x":-0.255,"y":0.46},{"s":10,"x":-0.21,"y":0.38},{"s":10,"x":-0.14,"y":0.31},{"s":10,"x":-0.04,"y":0.25},{"s":10,"x":0.08,"y":0.2},{"s":10,"x":0.22,"y":0.14},{"s":10,"x":0.36,"y":0.06},{"s":10,"x":0.49,"y":-0.04},{"s":10,"x":0.57,"y":-0.14},{"s":10,"x":0.56,"y":-0.21},{"s":10,"x":0.49,"y":-0.24},{"s":10,"x":0.39,"y":-0.23},{"s":10,"x":0.28,"y":-0.19},{"s":10,"x":0.18,"y":-0.14},{"s":10,"x":0.12,"y":-0.09},{"s":10,"x":0.09,"y":-0.06},{"s":10,"x":0.06,"y":-0.085},{"s":10,"x":0.01,"y":-0.115},{"s":10,"x":-0.07,"y":-0.115},{"s":10,"x":-0.15,"y":-0.075},{"s":10,"x":-0.2,"y":0.02},{"s":10,"x":-0.21,"y":0.16},{"s":10,"x":-0.2,"y":0.3},{"s":10,"x":-0.18,"y":0.42},{"s":10,"x":-0.155,"y":0.52},{"s":10,"x":-0.13,"y":0.62},{"s":10,"x":-0.11,"y":0.7},{"s":10,"x":-0.085,"y":0.76},{"s":10,"x":-0.055,"y":0.78},{"s":10,"x":-0.035,"y":0.75},{"s":10,"x":-0.045,"y":0.66},{"s":10,"x":-0.065,"y":0.6},{"s":10,"x":-0.09,"y":0.545}
]},
"mark": {"type": "line", "color": "#000000", "opacity": 0.45, "strokeWidth": 1.8, "interpolate": "catmull-rom"},
"encoding": {
"x": {"field": "x", "type": "quantitative", "scale": {"domain": [-0.42, 0.98], "nice": false, "zero": false}, "axis": {"values": [-0.4, 0, 0.4, 0.8], "format": ".1~f", "title": "x(t)"}},
"y": {"field": "y", "type": "quantitative", "scale": {"domain": [-0.435, 0.96], "nice": false, "zero": false}, "axis": {"values": [-0.4, 0, 0.4, 0.8], "format": ".1~f", "title": "x(t-τ)"}},
"detail": {"field": "s", "type": "nominal"},
"order": {"value": null}
}
},
{
"title": {"text": "(f)"},
"width": 208, "height": 157,
"data": {"values": [
{"s":1,"x":-0.62,"y":0.30},{"s":1,"x":-0.55,"y":0.55},{"s":1,"x":-0.38,"y":0.80},{"s":1,"x":-0.10,"y":1.05},{"s":1,"x":0.30,"y":1.28},{"s":1,"x":0.70,"y":1.43},{"s":1,"x":1.05,"y":1.52},{"s":1,"x":1.25,"y":1.50},{"s":1,"x":1.33,"y":1.38},{"s":1,"x":1.28,"y":1.18},{"s":1,"x":1.12,"y":0.90},{"s":1,"x":0.95,"y":0.62},{"s":1,"x":0.80,"y":0.40},{"s":1,"x":0.72,"y":0.28},{"s":1,"x":0.85,"y":0.12},{"s":1,"x":1.10,"y":-0.10},{"s":1,"x":1.35,"y":-0.32},{"s":1,"x":1.50,"y":-0.48},{"s":1,"x":1.48,"y":-0.60},{"s":1,"x":1.30,"y":-0.65},{"s":1,"x":0.95,"y":-0.60},{"s":1,"x":0.55,"y":-0.50},{"s":1,"x":0.15,"y":-0.40},{"s":1,"x":-0.22,"y":-0.26},{"s":1,"x":-0.47,"y":-0.10},{"s":1,"x":-0.59,"y":0.08},{"s":1,"x":-0.62,"y":0.30},
{"s":2,"x":-0.6,"y":0.25},{"s":2,"x":-0.52,"y":0.5},{"s":2,"x":-0.35,"y":0.75},{"s":2,"x":-0.08,"y":0.99},{"s":2,"x":0.28,"y":1.2},{"s":2,"x":0.65,"y":1.36},{"s":2,"x":0.98,"y":1.45},{"s":2,"x":1.16,"y":1.44},{"s":2,"x":1.23,"y":1.33},{"s":2,"x":1.17,"y":1.13},{"s":2,"x":1.0,"y":0.88},{"s":2,"x":0.8,"y":0.63},{"s":2,"x":0.6,"y":0.45},{"s":2,"x":0.45,"y":0.33},{"s":2,"x":0.55,"y":0.18},{"s":2,"x":0.8,"y":0.0},{"s":2,"x":1.08,"y":-0.22},{"s":2,"x":1.32,"y":-0.42},{"s":2,"x":1.42,"y":-0.54},{"s":2,"x":1.38,"y":-0.62},{"s":2,"x":1.18,"y":-0.62},{"s":2,"x":0.85,"y":-0.56},{"s":2,"x":0.45,"y":-0.47},{"s":2,"x":0.08,"y":-0.37},{"s":2,"x":-0.25,"y":-0.23},{"s":2,"x":-0.47,"y":-0.07},{"s":2,"x":-0.57,"y":0.08},{"s":2,"x":-0.6,"y":0.25},
{"s":3,"x":-0.58,"y":0.28},{"s":3,"x":-0.5,"y":0.52},{"s":3,"x":-0.32,"y":0.74},{"s":3,"x":-0.05,"y":0.95},{"s":3,"x":0.28,"y":1.13},{"s":3,"x":0.6,"y":1.28},{"s":3,"x":0.9,"y":1.37},{"s":3,"x":1.06,"y":1.36},{"s":3,"x":1.12,"y":1.25},{"s":3,"x":1.05,"y":1.06},{"s":3,"x":0.88,"y":0.84},{"s":3,"x":0.68,"y":0.64},{"s":3,"x":0.48,"y":0.48},{"s":3,"x":0.33,"y":0.38},{"s":3,"x":0.42,"y":0.22},{"s":3,"x":0.68,"y":0.03},{"s":3,"x":0.98,"y":-0.18},{"s":3,"x":1.22,"y":-0.36},{"s":3,"x":1.32,"y":-0.47},{"s":3,"x":1.28,"y":-0.56},{"s":3,"x":1.08,"y":-0.58},{"s":3,"x":0.76,"y":-0.53},{"s":3,"x":0.38,"y":-0.44},{"s":3,"x":0.02,"y":-0.33},{"s":3,"x":-0.28,"y":-0.2},{"s":3,"x":-0.48,"y":-0.04},{"s":3,"x":-0.56,"y":0.1},{"s":3,"x":-0.58,"y":0.28},
{"s":4,"x":-0.61,"y":0.33},{"s":4,"x":-0.53,"y":0.58},{"s":4,"x":-0.34,"y":0.8},{"s":4,"x":-0.06,"y":0.98},{"s":4,"x":0.25,"y":1.1},{"s":4,"x":0.55,"y":1.21},{"s":4,"x":0.82,"y":1.29},{"s":4,"x":0.97,"y":1.28},{"s":4,"x":1.02,"y":1.17},{"s":4,"x":0.95,"y":0.99},{"s":4,"x":0.78,"y":0.8},{"s":4,"x":0.58,"y":0.62},{"s":4,"x":0.4,"y":0.5},{"s":4,"x":0.28,"y":0.42},{"s":4,"x":0.45,"y":0.22},{"s":4,"x":0.75,"y":0.0},{"s":4,"x":1.05,"y":-0.2},{"s":4,"x":1.32,"y":-0.38},{"s":4,"x":1.46,"y":-0.5},{"s":4,"x":1.44,"y":-0.6},{"s":4,"x":1.25,"y":-0.63},{"s":4,"x":0.9,"y":-0.58},{"s":4,"x":0.5,"y":-0.5},{"s":4,"x":0.1,"y":-0.39},{"s":4,"x":-0.24,"y":-0.25},{"s":4,"x":-0.48,"y":-0.08},{"s":4,"x":-0.59,"y":0.1},{"s":4,"x":-0.61,"y":0.33},
{"s":5,"x":-0.57,"y":0.22},{"s":5,"x":-0.5,"y":0.46},{"s":5,"x":-0.33,"y":0.7},{"s":5,"x":-0.07,"y":0.9},{"s":5,"x":0.22,"y":1.04},{"s":5,"x":0.5,"y":1.14},{"s":5,"x":0.74,"y":1.21},{"s":5,"x":0.88,"y":1.2},{"s":5,"x":0.92,"y":1.1},{"s":5,"x":0.84,"y":0.93},{"s":5,"x":0.67,"y":0.76},{"s":5,"x":0.48,"y":0.6},{"s":5,"x":0.32,"y":0.48},{"s":5,"x":0.2,"y":0.4},{"s":5,"x":0.35,"y":0.2},{"s":5,"x":0.62,"y":-0.02},{"s":5,"x":0.9,"y":-0.22},{"s":5,"x":1.12,"y":-0.38},{"s":5,"x":1.22,"y":-0.47},{"s":5,"x":1.18,"y":-0.55},{"s":5,"x":0.98,"y":-0.56},{"s":5,"x":0.68,"y":-0.51},{"s":5,"x":0.32,"y":-0.43},{"s":5,"x":-0.02,"y":-0.32},{"s":5,"x":-0.3,"y":-0.18},{"s":5,"x":-0.47,"y":-0.03},{"s":5,"x":-0.55,"y":0.08},{"s":5,"x":-0.57,"y":0.22},
{"s":6,"x":-0.6,"y":0.28},{"s":6,"x":-0.52,"y":0.52},{"s":6,"x":-0.33,"y":0.74},{"s":6,"x":-0.08,"y":0.9},{"s":6,"x":0.2,"y":1.0},{"s":6,"x":0.45,"y":1.07},{"s":6,"x":0.66,"y":1.12},{"s":6,"x":0.78,"y":1.1},{"s":6,"x":0.8,"y":1.0},{"s":6,"x":0.7,"y":0.85},{"s":6,"x":0.53,"y":0.7},{"s":6,"x":0.36,"y":0.56},{"s":6,"x":0.22,"y":0.46},{"s":6,"x":0.15,"y":0.38},{"s":6,"x":0.32,"y":0.18},{"s":6,"x":0.62,"y":-0.05},{"s":6,"x":0.95,"y":-0.27},{"s":6,"x":1.25,"y":-0.45},{"s":6,"x":1.38,"y":-0.55},{"s":6,"x":1.35,"y":-0.63},{"s":6,"x":1.15,"y":-0.64},{"s":6,"x":0.8,"y":-0.58},{"s":6,"x":0.42,"y":-0.49},{"s":6,"x":0.05,"y":-0.38},{"s":6,"x":-0.27,"y":-0.24},{"s":6,"x":-0.49,"y":-0.08},{"s":6,"x":-0.58,"y":0.1},{"s":6,"x":-0.6,"y":0.28},
{"s":7,"x":-0.55,"y":0.3},{"s":7,"x":-0.47,"y":0.53},{"s":7,"x":-0.3,"y":0.72},{"s":7,"x":-0.07,"y":0.85},{"s":7,"x":0.17,"y":0.93},{"s":7,"x":0.4,"y":0.98},{"s":7,"x":0.58,"y":1.02},{"s":7,"x":0.68,"y":0.99},{"s":7,"x":0.68,"y":0.9},{"s":7,"x":0.57,"y":0.78},{"s":7,"x":0.4,"y":0.65},{"s":7,"x":0.25,"y":0.53},{"s":7,"x":0.12,"y":0.43},{"s":7,"x":0.05,"y":0.35},{"s":7,"x":0.22,"y":0.15},{"s":7,"x":0.48,"y":-0.06},{"s":7,"x":0.75,"y":-0.24},{"s":7,"x":0.95,"y":-0.36},{"s":7,"x":1.02,"y":-0.43},{"s":7,"x":0.97,"y":-0.5},{"s":7,"x":0.78,"y":-0.5},{"s":7,"x":0.5,"y":-0.45},{"s":7,"x":0.18,"y":-0.37},{"s":7,"x":-0.12,"y":-0.27},{"s":7,"x":-0.36,"y":-0.13},{"s":7,"x":-0.5,"y":0.02},{"s":7,"x":-0.55,"y":0.15},{"s":7,"x":-0.55,"y":0.3},
{"s":8,"x":-0.59,"y":0.35},{"s":8,"x":-0.5,"y":0.6},{"s":8,"x":-0.32,"y":0.84},{"s":8,"x":-0.05,"y":1.06},{"s":8,"x":0.32,"y":1.26},{"s":8,"x":0.72,"y":1.42},{"s":8,"x":1.05,"y":1.5},{"s":8,"x":1.22,"y":1.49},{"s":8,"x":1.3,"y":1.4},{"s":8,"x":1.26,"y":1.22},{"s":8,"x":1.1,"y":0.98},{"s":8,"x":0.9,"y":0.74},{"s":8,"x":0.68,"y":0.54},{"s":8,"x":0.5,"y":0.4},{"s":8,"x":0.6,"y":0.22},{"s":8,"x":0.82,"y":0.02},{"s":8,"x":1.05,"y":-0.18},{"s":8,"x":1.2,"y":-0.35},{"s":8,"x":1.27,"y":-0.48},{"s":8,"x":1.22,"y":-0.56},{"s":8,"x":1.03,"y":-0.58},{"s":8,"x":0.72,"y":-0.53},{"s":8,"x":0.35,"y":-0.44},{"s":8,"x":0.0,"y":-0.33},{"s":8,"x":-0.3,"y":-0.19},{"s":8,"x":-0.5,"y":-0.04},{"s":8,"x":-0.58,"y":0.15},{"s":8,"x":-0.59,"y":0.35},
{"s":9,"x":-0.63,"y":0.2},{"s":9,"x":-0.56,"y":0.46},{"s":9,"x":-0.4,"y":0.72},{"s":9,"x":-0.13,"y":0.97},{"s":9,"x":0.22,"y":1.18},{"s":9,"x":0.58,"y":1.33},{"s":9,"x":0.9,"y":1.42},{"s":9,"x":1.09,"y":1.42},{"s":9,"x":1.16,"y":1.31},{"s":9,"x":1.1,"y":1.12},{"s":9,"x":0.94,"y":0.9},{"s":9,"x":0.74,"y":0.68},{"s":9,"x":0.56,"y":0.5},{"s":9,"x":0.42,"y":0.36},{"s":9,"x":0.58,"y":0.16},{"s":9,"x":0.86,"y":-0.05},{"s":9,"x":1.15,"y":-0.25},{"s":9,"x":1.4,"y":-0.43},{"s":9,"x":1.51,"y":-0.55},{"s":9,"x":1.47,"y":-0.63},{"s":9,"x":1.27,"y":-0.66},{"s":9,"x":0.92,"y":-0.61},{"s":9,"x":0.5,"y":-0.51},{"s":9,"x":0.1,"y":-0.4},{"s":9,"x":-0.26,"y":-0.27},{"s":9,"x":-0.5,"y":-0.11},{"s":9,"x":-0.61,"y":0.04},{"s":9,"x":-0.63,"y":0.2},
{"s":10,"x":-0.56,"y":0.36},{"s":10,"x":-0.47,"y":0.6},{"s":10,"x":-0.28,"y":0.82},{"s":10,"x":-0.02,"y":0.99},{"s":10,"x":0.27,"y":1.12},{"s":10,"x":0.55,"y":1.22},{"s":10,"x":0.8,"y":1.29},{"s":10,"x":0.93,"y":1.27},{"s":10,"x":0.96,"y":1.16},{"s":10,"x":0.88,"y":0.99},{"s":10,"x":0.72,"y":0.8},{"s":10,"x":0.53,"y":0.63},{"s":10,"x":0.37,"y":0.5},{"s":10,"x":0.26,"y":0.4},{"s":10,"x":0.4,"y":0.19},{"s":10,"x":0.65,"y":0.0},{"s":10,"x":0.9,"y":-0.2},{"s":10,"x":1.08,"y":-0.34},{"s":10,"x":1.16,"y":-0.43},{"s":10,"x":1.12,"y":-0.51},{"s":10,"x":0.93,"y":-0.53},{"s":10,"x":0.63,"y":-0.48},{"s":10,"x":0.28,"y":-0.4},{"s":10,"x":-0.05,"y":-0.3},{"s":10,"x":-0.32,"y":-0.16},{"s":10,"x":-0.49,"y":0.0},{"s":10,"x":-0.55,"y":0.18},{"s":10,"x":-0.56,"y":0.36},
{"s":11,"x":-0.6,"y":0.32},{"s":11,"x":-0.52,"y":0.56},{"s":11,"x":-0.36,"y":0.78},{"s":11,"x":-0.12,"y":1.0},{"s":11,"x":0.22,"y":1.22},{"s":11,"x":0.62,"y":1.39},{"s":11,"x":1.0,"y":1.48},{"s":11,"x":1.18,"y":1.47},{"s":11,"x":1.26,"y":1.36},{"s":11,"x":1.2,"y":1.16},{"s":11,"x":1.04,"y":0.92},{"s":11,"x":0.84,"y":0.68},{"s":11,"x":0.64,"y":0.5},{"s":11,"x":0.5,"y":0.38},{"s":11,"x":0.62,"y":0.2},{"s":11,"x":0.88,"y":-0.02},{"s":11,"x":1.12,"y":-0.22},{"s":11,"x":1.3,"y":-0.4},{"s":11,"x":1.37,"y":-0.51},{"s":11,"x":1.33,"y":-0.59},{"s":11,"x":1.13,"y":-0.61},{"s":11,"x":0.8,"y":-0.56},{"s":11,"x":0.4,"y":-0.46},{"s":11,"x":0.03,"y":-0.36},{"s":11,"x":-0.28,"y":-0.22},{"s":11,"x":-0.49,"y":-0.06},{"s":11,"x":-0.58,"y":0.12},{"s":11,"x":-0.6,"y":0.32},
{"s":12,"x":-0.62,"y":0.26},{"s":12,"x":-0.55,"y":0.48},{"s":12,"x":-0.38,"y":0.68},{"s":12,"x":-0.15,"y":0.8},{"s":12,"x":0.1,"y":0.86},{"s":12,"x":0.32,"y":0.9},{"s":12,"x":0.5,"y":0.93},{"s":12,"x":0.6,"y":0.9},{"s":12,"x":0.58,"y":0.81},{"s":12,"x":0.45,"y":0.7},{"s":12,"x":0.3,"y":0.58},{"s":12,"x":0.15,"y":0.47},{"s":12,"x":0.05,"y":0.38},{"s":12,"x":0.0,"y":0.3},{"s":12,"x":0.2,"y":0.1},{"s":12,"x":0.52,"y":-0.12},{"s":12,"x":0.88,"y":-0.32},{"s":12,"x":1.22,"y":-0.5},{"s":12,"x":1.42,"y":-0.58},{"s":12,"x":1.4,"y":-0.65},{"s":12,"x":1.2,"y":-0.66},{"s":12,"x":0.85,"y":-0.61},{"s":12,"x":0.45,"y":-0.52},{"s":12,"x":0.05,"y":-0.41},{"s":12,"x":-0.28,"y":-0.27},{"s":12,"x":-0.5,"y":-0.1},{"s":12,"x":-0.6,"y":0.07},{"s":12,"x":-0.62,"y":0.26},
{"s":13,"x":-0.5,"y":0.15},{"s":13,"x":-0.38,"y":0.42},{"s":13,"x":-0.15,"y":0.68},{"s":13,"x":0.15,"y":0.9},{"s":13,"x":0.5,"y":1.1},{"s":13,"x":0.85,"y":1.27},{"s":13,"x":1.08,"y":1.35},{"s":13,"x":1.18,"y":1.28},{"s":13,"x":1.12,"y":1.12},{"s":13,"x":0.92,"y":0.95},{"s":13,"x":0.62,"y":0.82},{"s":13,"x":0.3,"y":0.72},{"s":13,"x":0.05,"y":0.6},{"s":13,"x":-0.08,"y":0.45},{"s":13,"x":-0.02,"y":0.28},{"s":13,"x":0.25,"y":0.08},{"s":13,"x":0.62,"y":-0.12},{"s":13,"x":1.0,"y":-0.32},{"s":13,"x":1.28,"y":-0.48},{"s":13,"x":1.35,"y":-0.57},{"s":13,"x":1.25,"y":-0.62},{"s":13,"x":0.9,"y":-0.58},{"s":13,"x":0.45,"y":-0.5},{"s":13,"x":0.0,"y":-0.38},{"s":13,"x":-0.32,"y":-0.22},{"s":13,"x":-0.48,"y":-0.04},{"s":13,"x":-0.5,"y":0.15},
{"s":14,"x":-0.45,"y":0.25},{"s":14,"x":-0.3,"y":0.5},{"s":14,"x":-0.05,"y":0.75},{"s":14,"x":0.25,"y":0.95},{"s":14,"x":0.6,"y":1.15},{"s":14,"x":0.95,"y":1.33},{"s":14,"x":1.17,"y":1.42},{"s":14,"x":1.28,"y":1.38},{"s":14,"x":1.24,"y":1.22},{"s":14,"x":1.02,"y":1.05},{"s":14,"x":0.7,"y":0.9},{"s":14,"x":0.38,"y":0.78},{"s":14,"x":0.12,"y":0.65},{"s":14,"x":-0.02,"y":0.5},{"s":14,"x":0.02,"y":0.33},{"s":14,"x":0.22,"y":0.14},{"s":14,"x":0.55,"y":-0.06},{"s":14,"x":0.92,"y":-0.27},{"s":14,"x":1.22,"y":-0.44},{"s":14,"x":1.3,"y":-0.53},{"s":14,"x":1.2,"y":-0.58},{"s":14,"x":0.85,"y":-0.54},{"s":14,"x":0.4,"y":-0.45},{"s":14,"x":-0.02,"y":-0.33},{"s":14,"x":-0.3,"y":-0.17},{"s":14,"x":-0.44,"y":0.03},{"s":14,"x":-0.45,"y":0.25},
{"s":15,"x":-0.55,"y":0.1},{"s":15,"x":-0.45,"y":0.35},{"s":15,"x":-0.25,"y":0.58},{"s":15,"x":0.02,"y":0.76},{"s":15,"x":0.35,"y":0.9},{"s":15,"x":0.65,"y":1.0},{"s":15,"x":0.85,"y":1.02},{"s":15,"x":0.88,"y":0.93},{"s":15,"x":0.72,"y":0.8},{"s":15,"x":0.45,"y":0.68},{"s":15,"x":0.18,"y":0.56},{"s":15,"x":-0.05,"y":0.42},{"s":15,"x":-0.18,"y":0.25},{"s":15,"x":-0.12,"y":0.08},{"s":15,"x":0.15,"y":-0.08},{"s":15,"x":0.5,"y":-0.25},{"s":15,"x":0.85,"y":-0.4},{"s":15,"x":1.1,"y":-0.5},{"s":15,"x":1.15,"y":-0.57},{"s":15,"x":1.02,"y":-0.6},{"s":15,"x":0.7,"y":-0.56},{"s":15,"x":0.3,"y":-0.48},{"s":15,"x":-0.08,"y":-0.36},{"s":15,"x":-0.36,"y":-0.2},{"s":15,"x":-0.52,"y":-0.05},{"s":15,"x":-0.55,"y":0.1},
{"s":16,"x":-0.4,"y":0.3},{"s":16,"x":-0.25,"y":0.55},{"s":16,"x":0.0,"y":0.82},{"s":16,"x":0.3,"y":1.03},{"s":16,"x":0.62,"y":1.2},{"s":16,"x":0.92,"y":1.3},{"s":16,"x":1.05,"y":1.26},{"s":16,"x":1.0,"y":1.12},{"s":16,"x":0.78,"y":0.98},{"s":16,"x":0.5,"y":0.86},{"s":16,"x":0.25,"y":0.75},{"s":16,"x":0.05,"y":0.62},{"s":16,"x":-0.1,"y":0.5},{"s":16,"x":-0.2,"y":0.35},{"s":16,"x":-0.15,"y":0.2},{"s":16,"x":0.1,"y":0.02},{"s":16,"x":0.48,"y":-0.18},{"s":16,"x":0.88,"y":-0.36},{"s":16,"x":1.2,"y":-0.5},{"s":16,"x":1.3,"y":-0.58},{"s":16,"x":1.18,"y":-0.63},{"s":16,"x":0.82,"y":-0.6},{"s":16,"x":0.38,"y":-0.5},{"s":16,"x":-0.05,"y":-0.38},{"s":16,"x":-0.35,"y":-0.2},{"s":16,"x":-0.45,"y":0.05},{"s":16,"x":-0.4,"y":0.3},
{"s":17,"x":-0.52,"y":0.2},{"s":17,"x":-0.4,"y":0.48},{"s":17,"x":-0.2,"y":0.72},{"s":17,"x":0.08,"y":0.93},{"s":17,"x":0.42,"y":1.12},{"s":17,"x":0.78,"y":1.28},{"s":17,"x":1.05,"y":1.38},{"s":17,"x":1.2,"y":1.38},{"s":17,"x":1.22,"y":1.27},{"s":17,"x":1.08,"y":1.12},{"s":17,"x":0.85,"y":0.98},{"s":17,"x":0.55,"y":0.84},{"s":17,"x":0.3,"y":0.7},{"s":17,"x":0.12,"y":0.55},{"s":17,"x":0.05,"y":0.4},{"s":17,"x":0.15,"y":0.22},{"s":17,"x":0.45,"y":0.02},{"s":17,"x":0.82,"y":-0.2},{"s":17,"x":1.15,"y":-0.38},{"s":17,"x":1.4,"y":-0.52},{"s":17,"x":1.45,"y":-0.6},{"s":17,"x":1.32,"y":-0.64},{"s":17,"x":0.95,"y":-0.6},{"s":17,"x":0.5,"y":-0.5},{"s":17,"x":0.05,"y":-0.38},{"s":17,"x":-0.3,"y":-0.22},{"s":17,"x":-0.5,"y":-0.02},{"s":17,"x":-0.52,"y":0.2},
{"s":18,"x":-0.35,"y":0.18},{"s":18,"x":-0.2,"y":0.42},{"s":18,"x":0.05,"y":0.62},{"s":18,"x":0.35,"y":0.8},{"s":18,"x":0.65,"y":0.95},{"s":18,"x":0.9,"y":1.05},{"s":18,"x":1.0,"y":1.02},{"s":18,"x":0.92,"y":0.92},{"s":18,"x":0.7,"y":0.8},{"s":18,"x":0.45,"y":0.68},{"s":18,"x":0.25,"y":0.55},{"s":18,"x":0.12,"y":0.4},{"s":18,"x":0.1,"y":0.25},{"s":18,"x":0.3,"y":0.08},{"s":18,"x":0.65,"y":-0.12},{"s":18,"x":1.0,"y":-0.3},{"s":18,"x":1.25,"y":-0.45},{"s":18,"x":1.3,"y":-0.53},{"s":18,"x":1.18,"y":-0.57},{"s":18,"x":0.85,"y":-0.53},{"s":18,"x":0.45,"y":-0.45},{"s":18,"x":0.05,"y":-0.34},{"s":18,"x":-0.25,"y":-0.18},{"s":18,"x":-0.38,"y":0.0},{"s":18,"x":-0.35,"y":0.18},
{"s":19,"x":-0.58,"y":0.28},{"s":19,"x":-0.47,"y":0.55},{"s":19,"x":-0.28,"y":0.8},{"s":19,"x":0.0,"y":1.02},{"s":19,"x":0.35,"y":1.2},{"s":19,"x":0.7,"y":1.34},{"s":19,"x":0.98,"y":1.4},{"s":19,"x":1.1,"y":1.35},{"s":19,"x":1.05,"y":1.2},{"s":19,"x":0.85,"y":1.05},{"s":19,"x":0.55,"y":0.95},{"s":19,"x":0.25,"y":0.87},{"s":19,"x":0.0,"y":0.78},{"s":19,"x":-0.2,"y":0.64},{"s":19,"x":-0.3,"y":0.45},{"s":19,"x":-0.25,"y":0.25},{"s":19,"x":0.0,"y":0.05},{"s":19,"x":0.4,"y":-0.15},{"s":19,"x":0.8,"y":-0.32},{"s":19,"x":1.1,"y":-0.46},{"s":19,"x":1.2,"y":-0.55},{"s":19,"x":1.1,"y":-0.6},{"s":19,"x":0.78,"y":-0.58},{"s":19,"x":0.35,"y":-0.49},{"s":19,"x":-0.05,"y":-0.37},{"s":19,"x":-0.35,"y":-0.22},{"s":19,"x":-0.53,"y":-0.02},{"s":19,"x":-0.58,"y":0.28},
{"s":20,"x":-0.48,"y":0.05},{"s":20,"x":-0.4,"y":0.3},{"s":20,"x":-0.22,"y":0.52},{"s":20,"x":0.05,"y":0.7},{"s":20,"x":0.35,"y":0.84},{"s":20,"x":0.62,"y":0.92},{"s":20,"x":0.75,"y":0.9},{"s":20,"x":0.7,"y":0.8},{"s":20,"x":0.5,"y":0.7},{"s":20,"x":0.28,"y":0.6},{"s":20,"x":0.1,"y":0.48},{"s":20,"x":0.0,"y":0.32},{"s":20,"x":0.05,"y":0.15},{"s":20,"x":0.3,"y":-0.02},{"s":20,"x":0.65,"y":-0.2},{"s":20,"x":1.0,"y":-0.36},{"s":20,"x":1.3,"y":-0.5},{"s":20,"x":1.45,"y":-0.58},{"s":20,"x":1.38,"y":-0.64},{"s":20,"x":1.1,"y":-0.64},{"s":20,"x":0.7,"y":-0.58},{"s":20,"x":0.3,"y":-0.48},{"s":20,"x":-0.08,"y":-0.36},{"s":20,"x":-0.34,"y":-0.2},{"s":20,"x":-0.47,"y":-0.08},{"s":20,"x":-0.48,"y":0.05}
]},
"mark": {"type": "line", "color": "#000000", "opacity": 0.45, "strokeWidth": 1.5, "interpolate": "catmull-rom"},
"encoding": {
"x": {"field": "x", "type": "quantitative", "scale": {"domain": [-0.8, 1.6], "nice": false, "zero": false}, "axis": {"values": [-0.8, 0, 0.8, 1.6], "format": ".1~f", "title": "x(t)", "titleX": 80}},
"y": {"field": "y", "type": "quantitative", "scale": {"domain": [-0.8, 1.6], "nice": false, "zero": false}, "axis": {"values": [-0.8, 0, 0.8, 1.6], "format": ".1~f", "title": "x(t-τ)"}},
"detail": {"field": "s", "type": "nominal"},
"order": {"value": null}
}
}
],
"config": {
"view": {"stroke": "#c8c8c8", "strokeWidth": 1},
"axis": {"domain": false, "ticks": false, "grid": false, "labelFont": "Liberation Serif", "labelFontSize": 22, "labelColor": "#1a1a1a", "titleFont": "Liberation Serif", "titleFontSize": 22, "titleFontWeight": "normal", "titleColor": "#1a1a1a"},
"axisX": {"labelPadding": 7, "titlePadding": 3},
"axisY": {"labelPadding": 4, "titlePadding": 4},
"title": {"font": "Liberation Sans", "fontSize": 25, "fontWeight": "bold", "color": "#111111", "anchor": "start", "frame": "group", "offset": 0, "dx": -67, "dy": 31}
}
}
